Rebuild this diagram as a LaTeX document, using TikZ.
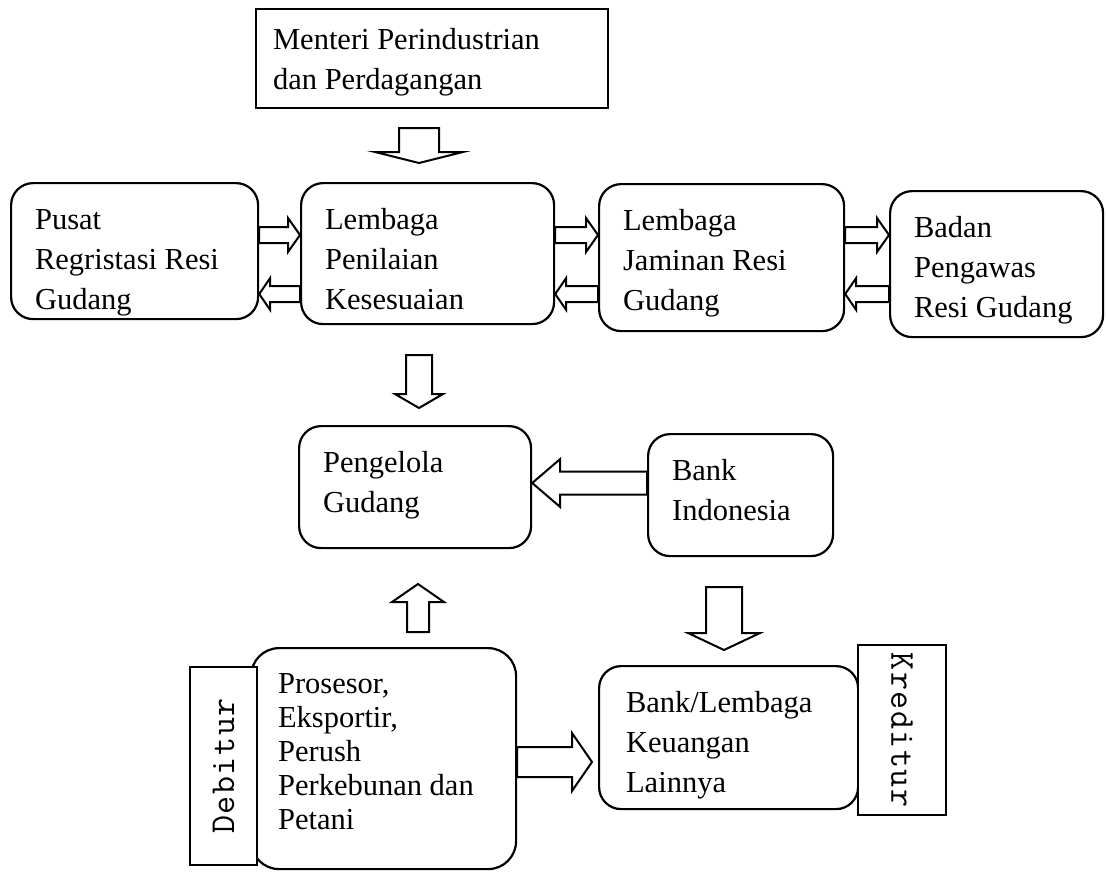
\documentclass[tikz,border=0pt]{standalone}
\usepackage{fontspec}
\setmainfont{Liberation Serif}
\usepackage{tikz}
\usetikzlibrary{calc}

% text block at the top left of a box
\newcommand{\tb}[3]{\parbox[c][#2pt][t]{#1pt}{\raggedright\strut#3}}
% gap between the letters of a side tag
\newcommand{\lsp}{\kern1.5pt}
% hollow block arrow: from, to, shaft half width, head half width, head length
\newcommand{\blockarrow}[5]{%
  \draw[arrowbody] let \p1=(#1), \p2=(#2),
      \n1={veclen(\x2-\x1,\y2-\y1)},
      \n2={(\x2-\x1)/\n1}, \n3={(\y2-\y1)/\n1},
      \p3=({\x2-#5*(\n2)},{\y2-#5*(\n3)}) in
    ({\x1-#3*(\n3)},{\y1+#3*(\n2)}) -- ({\x3-#3*(\n3)},{\y3+#3*(\n2)})
    -- ({\x3-#4*(\n3)},{\y3+#4*(\n2)}) -- (\p2)
    -- ({\x3+#4*(\n3)},{\y3-#4*(\n2)}) -- ({\x3+#3*(\n3)},{\y3-#3*(\n2)})
    -- ({\x1+#3*(\n3)},{\y1-#3*(\n2)}) -- cycle;}

\begin{document}
\begin{tikzpicture}[x=1pt,y=-1pt,
    every node/.style={font=\fontsize{30.5}{40}\selectfont},
    sqbox/.style={draw,line width=2.2pt,anchor=north west,inner xsep=24pt,inner ysep=18pt},
    rbox/.style={sqbox,rounded corners=22pt},
    tag/.style={draw,line width=2.2pt,fill=white,inner sep=0pt,
                font=\fontsize{35}{35}\ttfamily},
    arrowbody/.style={draw,line width=2pt,line join=miter}]

  \useasboundingbox (0,0) rectangle (1106,871);

  \node[sqbox,inner xsep=17pt,inner ysep=12pt] (men) at (255,8)
    {\tb{318}{75}{Menteri Perindustrian\\dan Perdagangan}};

  \node[rbox] (pusat) at (10,182)  {\tb{199}{100}{Pusat\\Regristasi Resi\\Gudang}};
  \node[rbox] (nilai) at (300,182) {\tb{205}{105}{Lembaga\\Penilaian\\Kesesuaian}};
  \node[rbox] (jamin) at (598,183) {\tb{197}{111}{Lembaga\\Jaminan Resi\\Gudang}};
  \node[rbox] (badan) at (889,190) {\tb{165}{110}{Badan\\Pengawas\\Resi Gudang}};

  \node[rbox] (kelola) at (298,425) {\tb{184}{86}{Pengelola\\Gudang}};
  \node[rbox] (bi)     at (647,433) {\tb{137}{86}{Bank\\Indonesia}};

  \node[rbox,inner xsep=27pt,inner ysep=22pt,rounded corners=28pt,
        font=\fontsize{30.5}{34}\selectfont] (prosesor) at (250,647)
    {\tb{211}{177}{Prosesor,\\Eksportir,\\Perush\\Perkebunan dan\\Petani}};
  \node[rbox,inner xsep=27pt] (lembaga) at (598,665)
    {\tb{205}{107}{Bank/Lembaga\\Keuangan\\Lainnya}};

  \node[tag,rotate=90,minimum width=198pt,minimum height=67pt] (debitur) at (223.5,766)
    {D\lsp e\lsp b\lsp i\lsp t\lsp u\lsp r};
  \node[tag,rotate=-90,minimum width=170pt,minimum height=88pt] (kreditur) at (902,730)
    {K\lsp r\lsp e\lsp d\lsp i\lsp t\lsp u\lsp r};

  \coordinate (a1) at (419,128);
  \coordinate (a2) at (419,163);
  \coordinate (b1) at (419,355);
  \coordinate (b2) at (419,408);
  \coordinate (c1) at (418,632);
  \coordinate (c2) at (418,584);
  \coordinate (d1) at (724,587);
  \coordinate (d2) at (724,650);
  \coordinate (fend) at (592,762);

  % arrows
  \blockarrow{a1}{a2}{20}{44}{11}
  \blockarrow{pusat.east |- 0,235}{nilai.west |- 0,235}{8}{17}{12}
  \blockarrow{nilai.west |- 0,294}{pusat.east |- 0,294}{8}{16}{11}
  \blockarrow{nilai.east |- 0,235}{jamin.west |- 0,235}{8}{17}{12}
  \blockarrow{jamin.west |- 0,294}{nilai.east |- 0,294}{8}{16}{11}
  \blockarrow{jamin.east |- 0,235}{badan.west |- 0,235}{8}{17}{12}
  \blockarrow{badan.west |- 0,294}{jamin.east |- 0,294}{8}{16}{11}
  \blockarrow{b1}{b2}{13}{24}{14}
  \blockarrow{bi.west |- 0,483}{kelola.east |- 0,483}{11.5}{24}{28}
  \blockarrow{c1}{c2}{11}{26}{18}
  \blockarrow{d1}{d2}{18}{36}{17}
  \blockarrow{prosesor.east |- 0,762}{fend}{15}{29}{20}
\end{tikzpicture}
\end{document}
